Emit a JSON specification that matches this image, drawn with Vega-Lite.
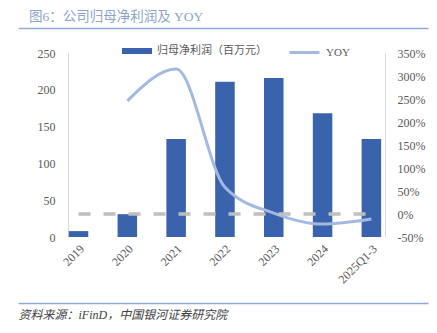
{
  "$schema": "https://vega.github.io/schema/vega-lite/v6.json",
  "width": 410,
  "height": 184,
  "autosize": {"type": "none"},
  "padding": {"left": 18, "top": 53, "right": 9, "bottom": 96},
  "title": {
    "text": "图6：公司归母净利润及 YOY",
    "anchor": "start",
    "frame": "group",
    "dx": 11,
    "offset": 5,
    "fontSize": 13.5,
    "fontWeight": "normal",
    "color": "#8ea3c8",
    "font": "Liberation Serif, Noto Sans CJK SC"
  },
  "config": {
    "view": {"stroke": null},
    "font": "Liberation Serif, Noto Sans CJK SC",
    "axis": {"grid": false, "ticks": false, "labelFont": "Liberation Serif, Noto Sans CJK SC", "labelFontSize": 12, "labelColor": "#595959"},
    "legend": {"labelFont": "Liberation Serif, Noto Sans CJK SC", "labelFontSize": 11, "labelColor": "#595959", "padding": 0}
  },
  "data": {
    "values": [
      {"year": "2019", "profit": 8, "yoy": null},
      {"year": "2020", "profit": 31, "yoy": 246},
      {"year": "2021", "profit": 133, "yoy": 315},
      {"year": "2022", "profit": 211, "yoy": 58},
      {"year": "2023", "profit": 216, "yoy": 2},
      {"year": "2024", "profit": 168, "yoy": -22},
      {"year": "2025Q1-3", "profit": 133, "yoy": -11}
    ]
  },
  "layer": [
    {
      "mark": {"type": "bar"},
      "encoding": {
        "x": {
          "field": "year", "type": "ordinal", "sort": null,
          "scale": {"paddingInner": 0.6, "paddingOuter": 1.306, "align": 0.52},
          "axis": {"orient": "bottom", "title": null, "domain": false, "labelAngle": -45, "labelPadding": 6}
        },
        "y": {
          "field": "profit", "type": "quantitative",
          "scale": {"domain": [0, 250], "nice": false},
          "axis": {"orient": "left", "offset": -50, "title": null, "values": [0, 50, 100, 150, 200, 250], "domainColor": "#d9d9d9", "labelPadding": 13}
        },
        "fill": {
          "datum": "归母净利润（百万元）",
          "scale": {"range": ["#3a63ad"]},
          "legend": {"title": null, "orient": "none", "legendX": 104, "legendY": -17, "symbolType": "M-1,-0.2H1V0.2H-1Z", "symbolSize": 900, "symbolStrokeWidth": 0, "labelOffset": 5}
        }
      }
    },
    {
      "mark": {"type": "line", "interpolate": "monotone", "strokeWidth": 3},
      "encoding": {
        "x": {
          "field": "year", "type": "ordinal", "sort": null,
          "axis": {"orient": "top", "offset": 25, "title": null, "labels": false, "domainColor": "#8eaad8", "domainWidth": 1.5}
        },
        "y": {
          "field": "yoy", "type": "quantitative",
          "scale": {"domain": [-50, 350], "nice": false},
          "axis": {"orient": "right", "offset": -43, "title": null, "values": [-50, 0, 50, 100, 150, 200, 250, 300, 350], "labelExpr": "datum.value + '%'", "domainColor": "#d9d9d9", "labelPadding": 12}
        },
        "stroke": {
          "datum": "YOY",
          "scale": {"range": ["#a3b9e2"]},
          "legend": {"title": null, "orient": "none", "legendX": 270, "legendY": -17, "symbolType": "stroke", "symbolSize": 900, "symbolStrokeWidth": 3, "labelOffset": 5}
        }
      }
    },
    {
      "mark": {"type": "line", "color": "#bfbfbf", "strokeWidth": 3.5, "strokeDash": [12, 13]},
      "encoding": {
        "x": {
          "field": "year", "type": "ordinal", "sort": null,
          "axis": {"orient": "bottom", "offset": 66, "labels": false, "domainColor": "#8eaad8", "domainWidth": 1.5,
            "title": "资料来源：iFinD，中国银河证券研究院", "titleAnchor": "start", "titleAlign": "left", "titleFontStyle": "italic", "titleFontWeight": "normal", "titleFontSize": 12, "titleColor": "#404040", "titlePadding": 6, "titleFont": "Liberation Serif, Noto Sans CJK SC"}
        },
        "y": {
          "datum": 0,
          "scale": {"domain": [-50, 350], "nice": false},
          "axis": null
        }
      }
    }
  ],
  "resolve": {"scale": {"y": "independent", "fill": "independent", "stroke": "independent"}, "axis": {"x": "independent"}}
}
